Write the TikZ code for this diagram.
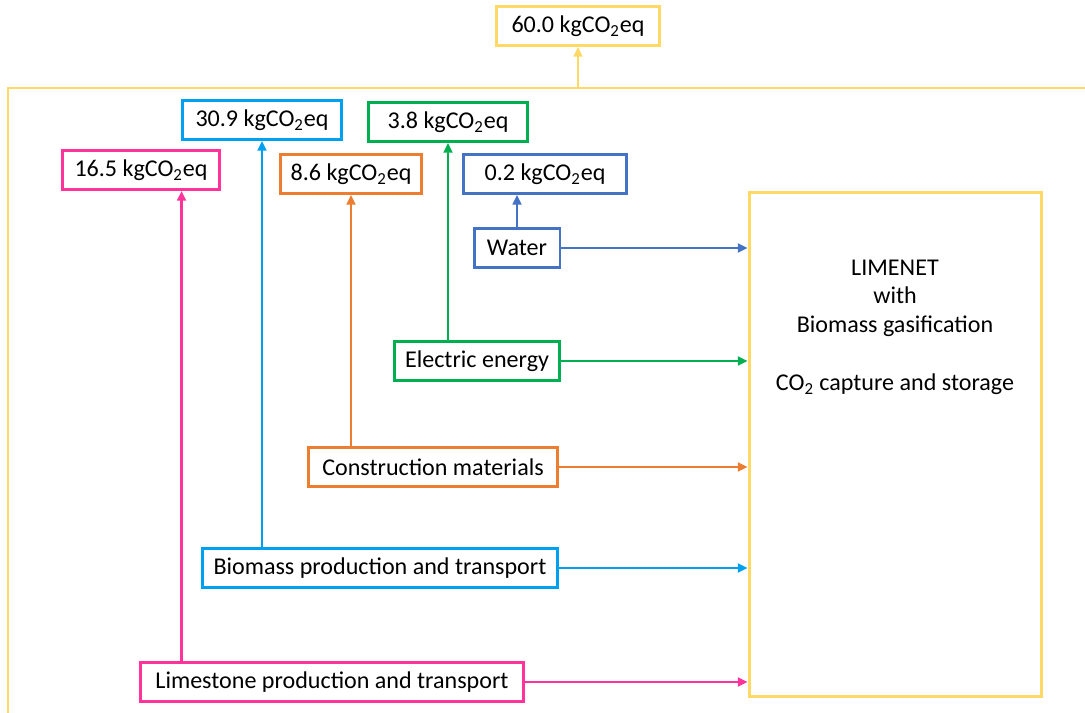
\documentclass[tikz,border=0pt]{standalone}
\usepackage{fontspec}
\setmainfont{Carlito}
\usetikzlibrary{arrows.meta,positioning}

\definecolor{sumyellow}{RGB}{255,217,102}
\definecolor{limepink}{RGB}{255,51,153}
\definecolor{biosky}{RGB}{0,160,240}
\definecolor{consorange}{RGB}{237,125,49}
\definecolor{elecgreen}{RGB}{0,176,80}
\definecolor{waterblue}{RGB}{68,114,196}

\newcommand{\kgco}[1]{#1 kgCO\textsubscript{2}eq}

\begin{document}
\begin{tikzpicture}[x=0.02cm, y=-0.02cm,
    font=\fontsize{13.7}{16.4}\selectfont,
    box/.style={rectangle, draw, line width=1.7pt, minimum height=0.78cm, inner sep=2pt},
    arrow/.style={-{Triangle[length=5.5pt,width=5pt]}, line width=1.3pt}
]
\useasboundingbox (0,0) rectangle (1085,713);

% Outer system boundary
\draw[sumyellow, line width=1.7pt] (8,713) -- (8,88) -- (1085,88);
\coordinate (outtop) at (578,88);

% Main process
\node[box, draw=sumyellow, minimum width=5.86cm, minimum height=10.1cm] (limenet) at (895.5,444.5) {};
\node[align=center] (limetext) at (895,327) {LIMENET\\with\\Biomass gasification\\[16.4pt]CO\textsubscript{2} capture and storage};

% Emission results
\node[box, draw=sumyellow, minimum width=3.26cm] (total) at (578,26) {\kgco{60.0}};
\node[box, draw=biosky, minimum width=3.2cm] (co2bio) at (262,120) {\kgco{30.9}};
\node[box, draw=elecgreen, minimum width=3.18cm] (co2elec) at (448,122) {\kgco{3.8}};
\node[box, draw=limepink, minimum width=3.16cm] (co2lime) at (141,170) {\kgco{16.5}};
\node[box, draw=consorange, minimum width=2.82cm] (co2cons) at (351,174) {\kgco{8.6}};
\node[box, draw=waterblue, minimum width=3.26cm] (co2water) at (545,174) {\kgco{0.2}};

% Inputs
\node[box, draw=waterblue, minimum width=1.72cm] (water) at (517,248) {Water};
\node[box, draw=elecgreen, minimum width=3.32cm] (elec) at (477,361) {Electric energy};
\node[box, draw=consorange, minimum width=5cm] (cons) at (433,467) {Construction materials};
\node[box, draw=biosky, minimum width=7.12cm] (bio) at (380,568) {Biomass production and transport};
\node[box, draw=limepink, minimum width=7.68cm] (lime) at (332,682) {Limestone production and transport};

% Arrows to emissions
\draw[arrow, sumyellow] (outtop) -- (total);
\draw[arrow, waterblue] (water.north) -- (water.north |- co2water.south);
\draw[arrow, elecgreen] (co2elec.south |- elec.north) -- (co2elec.south);
\draw[arrow, consorange] (co2cons.south |- cons.north) -- (co2cons.south);
\draw[arrow, biosky] (co2bio.south |- bio.north) -- (co2bio.south);
\draw[arrow, limepink] ([xshift=0.86cm]lime.north west) -- ([xshift=0.86cm]lime.north west |- co2lime.south);

% Arrows to process
\draw[arrow, waterblue] (water.east) -- (water.east -| limenet.west);
\draw[arrow, elecgreen] (elec.east) -- (elec.east -| limenet.west);
\draw[arrow, consorange] (cons.east) -- (cons.east -| limenet.west);
\draw[arrow, biosky] (bio.east) -- (bio.east -| limenet.west);
\draw[arrow, limepink] (lime.east) -- (lime.east -| limenet.west);

\end{tikzpicture}
\end{document}
